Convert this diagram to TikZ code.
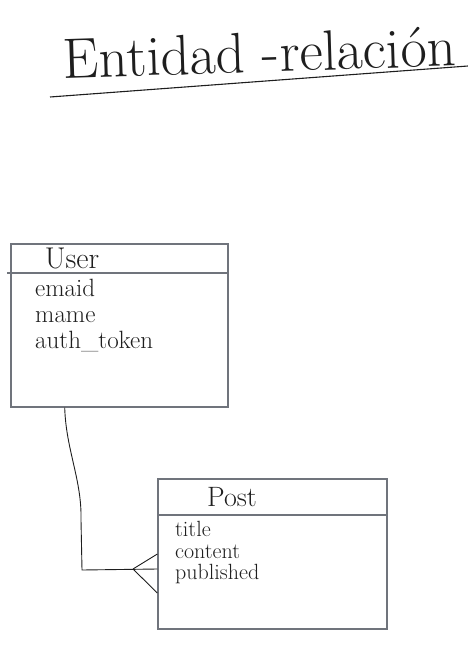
\documentclass[tikz,border=0pt]{standalone}
\usetikzlibrary{positioning, calc}
\definecolor{boxgray}{RGB}{112,116,124}
\definecolor{ink}{RGB}{30,30,30}
\tikzset{
  entity/.style={rectangle, draw=boxgray, line width=1.3pt, inner sep=0pt},
  divider/.style={draw=boxgray, line width=1.2pt},
  heading/.style={anchor=base, inner sep=0pt, text=ink},
  attr/.style={anchor=base west, inner sep=0pt, text=ink},
  link/.style={draw=ink, line width=0.9pt}
}

\begin{document}
\begin{tikzpicture}[x=1pt, y=-1pt]
\useasboundingbox (0,0) rectangle (468,648);

% Title + underline
\node[heading, rotate=1.8, font=\fontsize{57}{60}\selectfont] (Title) at (260,72) {Entidad -relación};
\coordinate (ULeft) at (50,97);
\coordinate (URight) at (468,66);
\draw[link, line width=1.1pt] (ULeft) -- (URight);

% Entity: User
\node[entity, minimum width=217pt, minimum height=163pt] (User) at (119.5,325.5) {};
\coordinate (UserSep) at (0,273);
\draw[divider] ([xshift=-3pt]User.west |- UserSep) -- (User.east |- UserSep);
\node[heading, font=\fontsize{30}{32}\selectfont] (UserName) at (72,268) {User};
\node[attr, font=\fontsize{25}{27}\selectfont] (Email) at (35,296) {emaid};
\node[attr, font=\fontsize{25}{27}\selectfont] (Name) at (35,322) {mame};
\node[attr, font=\fontsize{25}{27}\selectfont] (Token) at (35,348) {auth\_token};

% Entity: Post
\node[entity, minimum width=229pt, minimum height=150pt] (Post) at (272.5,554) {};
\coordinate (PostSep) at (0,515);
\draw[divider] (Post.west |- PostSep) -- (Post.east |- PostSep);
\node[heading, font=\fontsize{28}{30}\selectfont] (PostName) at (232,506) {Post};
\node[attr, font=\fontsize{22}{24}\selectfont] (PTitle) at (175,536) {title};
\node[attr, font=\fontsize{22}{24}\selectfont] (PContent) at (175,558) {content};
\node[attr, font=\fontsize{22}{24}\selectfont] (PPublished) at (175,579) {published};

% User 1 -- N Post
\coordinate (UserFoot) at ($(User.south west)!0.249!(User.south east)$);
\coordinate (Crow) at (133,569);
\draw[link] (UserFoot) .. controls (66,450) and (82,480) .. (81,520) -- (82,570) -- (Post.west |- Crow);
\draw[link] (Crow) -- (Post.west |- 0,554);
\draw[link] (Crow) -- (Post.west |- 0,593);

\end{tikzpicture}
\end{document}
